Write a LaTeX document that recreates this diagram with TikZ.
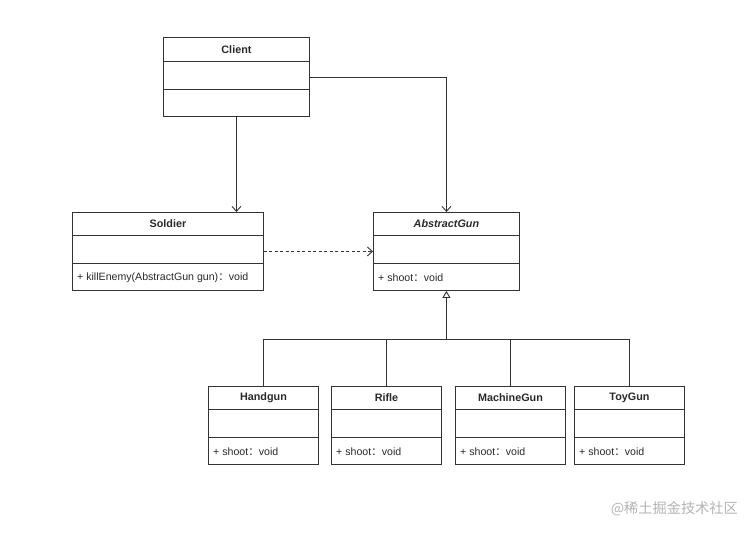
\documentclass[tikz,border=0pt]{standalone}
\usepackage{fontspec}
\setmainfont{Liberation Sans}
\newfontfamily\cjk{Noto Sans CJK SC}
\usetikzlibrary{arrows.meta,calc}
\definecolor{ln}{HTML}{333333}
\definecolor{tx}{HTML}{2A2A2A}
\definecolor{wm}{HTML}{B4B4B4}
\tikzset{
  box/.style={draw=ln, line width=0.9pt, inner sep=0pt, rectangle},
  cltitle/.style={text=tx, font=\fontsize{10.8}{13}\selectfont\bfseries, inner sep=0pt},
  clmethod/.style={text=tx, font=\fontsize{10.6}{13}\selectfont, inner sep=0pt, anchor=west},
  divline/.style={draw=ln, line width=0.9pt},
  conn/.style={draw=ln, line width=0.9pt},
  assoc/.style={conn, -{Straight Barb[length=5pt,width=9pt,line width=0.9pt]}},
  dep/.style={conn, dashed, dash pattern=on 3pt off 2.5pt, -{Straight Barb[length=5pt,width=9pt,line width=0.9pt]}},
  inher/.style={conn, -{Triangle[open,length=7pt,width=8pt,line width=0.9pt]}},
}
% #1 name, #2 left x, #3 top y, #4 width, #5 title, #6 method
\newcommand\umlclass[6]{%
  \node[box, minimum width=#4pt, minimum height=78pt, anchor=north west] (#1) at (#2,#3) {};
  \node[cltitle] (#1-t) at ($(#1.north)+(0,12)$) {#5};
  \draw[divline] ($(#1.north west)+(0,23.5)$) -- ($(#1.north east)+(0,23.5)$);
  \draw[divline] ($(#1.north west)+(0,51)$) -- ($(#1.north east)+(0,51)$);
  \node[clmethod] (#1-m) at ($(#1.north west)+(5,66)$) {#6};
}
\begin{document}
\begin{tikzpicture}[x=1pt,y=-1pt]
\useasboundingbox[fill=white] (0,0) rectangle (756,542);
% Client
\node[box, minimum width=146pt, minimum height=79pt, anchor=north west] (Client) at (163,37) {};
\node[cltitle] (Client-t) at ($(Client.north)+(0,12.5)$) {Client};
\draw[divline] ($(Client.north west)+(0,24.7)$) -- ($(Client.north east)+(0,24.7)$);
\draw[divline] ($(Client.north west)+(0,52.3)$) -- ($(Client.north east)+(0,52.3)$);
% classes
\umlclass{Soldier}{72}{212}{191}{Soldier}{+ killEnemy(AbstractGun gun){\cjk ：}void}
\umlclass{AbstractGun}{373}{212}{146}{\itshape AbstractGun}{+ shoot{\cjk ：}void}
\umlclass{Handgun}{208}{386}{110}{Handgun}{+ shoot{\cjk ：}void}
\umlclass{Rifle}{331}{386}{110}{Rifle}{+ shoot{\cjk ：}void}
\umlclass{MachineGun}{455}{386}{110}{MachineGun}{+ shoot{\cjk ：}void}
\umlclass{ToyGun}{574}{386}{110}{ToyGun}{+ shoot{\cjk ：}void}
% connectors
\draw[assoc] (Client.south) -- (Client.south |- Soldier.north);
\draw[assoc] (Client.east) -| (AbstractGun.north);
\draw[dep] (Soldier.east) -- (AbstractGun.west);
\coordinate (bus) at (446,339);
\draw[conn] (Handgun.north) |- (ToyGun.north |- bus) -- (ToyGun.north);
\draw[conn] (Rifle.north) -- (Rifle.north |- bus);
\draw[conn] (MachineGun.north) -- (MachineGun.north |- bus);
\draw[inher] (AbstractGun.south |- bus) -- (AbstractGun.south);
% watermark
\node[text=wm, font=\cjk\fontsize{14.2}{16}\selectfont, anchor=east, inner sep=0pt] (wmark) at (738,509) {@稀土掘金技术社区};
\end{tikzpicture}
\end{document}
